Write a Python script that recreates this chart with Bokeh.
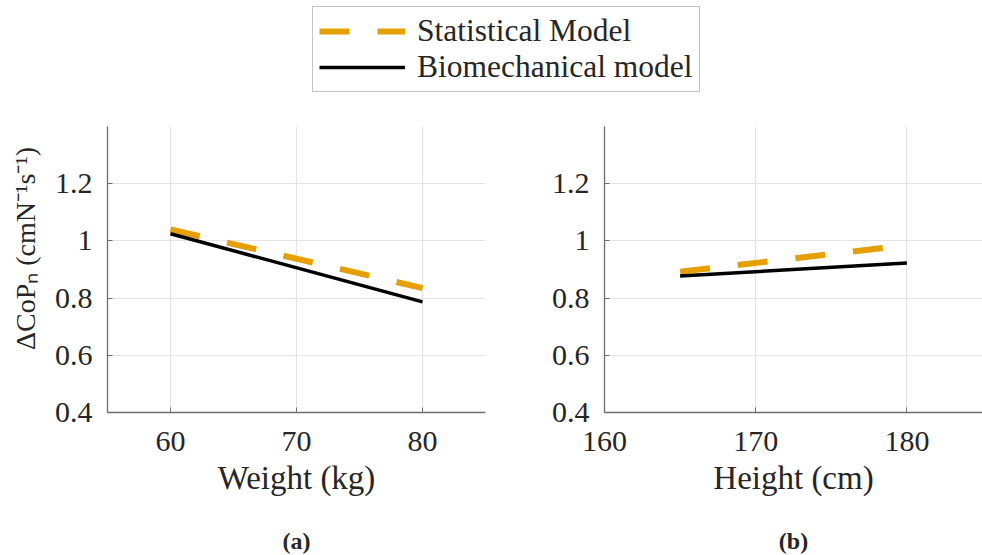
from bokeh.plotting import figure
from bokeh.models import Range1d, FixedTicker, Legend, LegendItem, Label
from bokeh.layouts import column, row
from bokeh.embed import file_html
from bokeh.resources import INLINE

# ---- data ----
weight = [60, 80]
stat_weight = [1.04, 0.835]
bio_weight = [1.025, 0.787]

height_cm = [165, 180]
stat_height = [0.892, 0.985]
bio_height = [0.877, 0.923]

y_ticks = [0.4, 0.6, 0.8, 1, 1.2]
weight_ticks = [60, 70, 80]
height_ticks = [160, 170, 180]

series_names = ["Statistical Model", "Biomechanical model"]
captions = ["(a)", "(b)"]

FONT = "Liberation Serif"
ORANGE = "#E69F00"
TXT = "#262626"
AXC = "#6e6e6e"
GRID = "#e4e4e4"


def make_panel(x, stat, bio, xr, xticks, xlabel, ylabel, width, min_left, min_right):
    p = figure(width=width, height=392, x_range=Range1d(*xr), y_range=Range1d(0.4, 1.4),
               output_backend="svg", toolbar_location=None,
               min_border_left=min_left, min_border_right=min_right,
               min_border_top=13, min_border_bottom=93)
    p.outline_line_color = None
    p.background_fill_color = "white"
    p.border_fill_color = "white"

    p.line(x, stat, line_color=ORANGE, line_width=6, line_dash="30 28")
    p.line(x, bio, line_color="black", line_width=3.5)

    p.xaxis.ticker = FixedTicker(ticks=xticks)
    p.yaxis.ticker = FixedTicker(ticks=y_ticks)
    p.yaxis.major_label_overrides = {1: "1"}

    for ax in (p.xaxis[0], p.yaxis[0]):
        ax.axis_line_color = AXC
        ax.axis_line_width = 1.3
        ax.major_tick_line_color = AXC
        ax.major_tick_in = 5
        ax.major_tick_out = 0
        ax.minor_tick_line_color = None
        ax.major_label_text_font = FONT
        ax.major_label_text_font_size = "30px"
        ax.major_label_text_color = TXT
        ax.axis_label_text_font = FONT
        ax.axis_label_text_font_style = "normal"
        ax.axis_label_text_color = TXT

    p.xaxis.major_label_standoff = 19
    p.yaxis.major_label_standoff = 15
    p.xaxis.axis_label = xlabel
    p.xaxis.axis_label_text_font_size = "33px"
    p.xaxis.axis_label_standoff = 6
    if ylabel:
        p.yaxis.axis_label = ylabel
        p.yaxis.axis_label_text_font_size = "28px"
        p.yaxis.axis_label_standoff = 11

    p.xgrid.grid_line_color = GRID
    p.ygrid.grid_line_color = GRID
    p.xgrid.grid_line_width = 1.2
    p.ygrid.grid_line_width = 1.2
    return p


def make_caption(xr, caption, width, min_left, min_right):
    c = figure(width=width, height=50, x_range=Range1d(*xr), y_range=Range1d(0, 1),
               output_backend="svg", toolbar_location=None,
               x_axis_location=None, y_axis_location=None,
               min_border_left=min_left, min_border_right=min_right,
               min_border_top=0, min_border_bottom=0)
    c.outline_line_color = None
    c.grid.visible = False
    c.add_layout(Label(x=(xr[0] + xr[1]) / 2, y=15, x_units="data", y_units="screen",
                       text=caption, text_align="center", text_baseline="middle",
                       text_font=FONT, text_font_size="24px", text_font_style="bold",
                       text_color=TXT))
    return c


pa = make_panel(weight, stat_weight, bio_weight, (55, 85), weight_ticks, "Weight (kg)",
                "\u00a0" * 6 + "\u0394CoP\u2099 (cmN\u207b\u00b9s\u207b\u00b9)", 498, 107, 13)
pb = make_panel(height_cm, stat_height, bio_height, (160, 185), height_ticks, "Height (cm)",
                None, 484, 106, 0)
ca = make_caption((55, 85), captions[0], 498, 107, 13)
cb = make_caption((160, 185), captions[1], 484, 106, 0)

# ---- legend figure ----
lf = figure(width=982, height=113, x_range=Range1d(0, 1), y_range=Range1d(0, 1),
            output_backend="svg", toolbar_location=None,
            x_axis_location=None, y_axis_location=None, min_border=0)
lf.outline_line_color = None
lf.grid.visible = False
r1 = lf.line([10, 11], [10, 11], line_color=ORANGE, line_width=6, line_dash="30 28")
r2 = lf.line([10, 11], [10, 11], line_color="black", line_width=3.5)
legend = Legend(items=[LegendItem(label=series_names[0], renderers=[r1]),
                       LegendItem(label=series_names[1], renderers=[r2])],
                location=(312, 21), glyph_width=86, glyph_height=30, label_height=30,
                label_standoff=12, padding=6, spacing=-7, margin=0,
                label_text_font=FONT, label_text_font_size="31.5px", label_text_color=TXT,
                border_line_color="#8a8a8a", border_line_width=1.5,
                background_fill_color="white", background_fill_alpha=1)
lf.add_layout(legend, "center")

layout = column(lf, row(pa, pb), row(ca, cb))
open("out.html", "w").write(file_html(layout, INLINE))
